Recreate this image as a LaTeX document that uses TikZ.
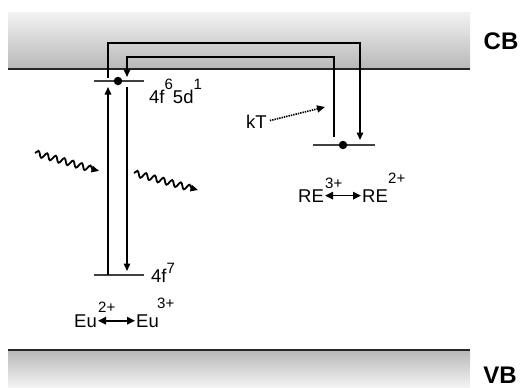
\documentclass[tikz,border=0pt]{standalone}
\usepackage{fontspec}
\setmainfont{Liberation Sans}
\usetikzlibrary{arrows.meta, positioning, decorations.pathmorphing}

\newcommand{\upidx}[2]{\raisebox{#1}{\fontsize{15}{17}\selectfont #2}}

\begin{document}
\begin{tikzpicture}[
    x=1pt, y=-1pt,
    >={Triangle[length=7.5pt, width=6.5pt]},
    font=\fontsize{18.5}{20}\selectfont,
    edge/.style={line width=2pt, draw=black!85},
    level/.style={line width=2pt, draw=black!75},
    trans/.style={->, line width=1.5pt},
    hop/.style={->, line width=1.5pt},
    thermal/.style={->, line width=1.7pt, dash pattern=on 1.4pt off 1pt, >={Triangle[length=8pt, width=7pt]}},
    photon/.style={->, line width=1.8pt, decorate, decoration={snake, amplitude=3pt, segment length=9pt, post length=6pt}},
    exch/.style={<->, line width=1.7pt, >={Triangle[length=8pt, width=7.5pt]}},
    lbl/.style={inner sep=0pt, anchor=base west},
    sup/.style={inner sep=0pt, anchor=base west, font=\fontsize{15}{17}\selectfont},
    bandlbl/.style={inner sep=0pt, font=\fontsize{24}{26}\selectfont\bfseries},
    elec/.style={circle, fill=black, inner sep=0pt, minimum size=8.5pt}
]
\useasboundingbox (0,0) rectangle (522,388);

% bands
\shade[top color=black!5, bottom color=black!28] (8,12) rectangle (470,69);
\draw[edge] (8,69) -- (470,69);
\shade[top color=black!28, bottom color=black!4] (8,350) rectangle (470,388);
\draw[edge] (8,350) -- (470,350);
\node[bandlbl] (cb) at (501,41) {CB};
\node[bandlbl] (vb) at (500,375) {VB};

% levels
\coordinate (eu5dL) at (94,81);
\coordinate (eu5dR) at (144,81);
\coordinate (eu4fL) at (94,275);
\coordinate (eu4fR) at (144,275);
\coordinate (trapL) at (313,145);
\coordinate (trapR) at (375,145);
\draw[level] (eu5dL) -- (eu5dR);
\draw[level] (eu4fL) -- (eu4fR);
\draw[level] (trapL) -- (trapR);
\node[elec] (e1) at (118,81) {};
\node[elec] (e2) at (343,145) {};

% absorption / emission
\coordinate (absA) at (108,275);
\coordinate (absB) at (108,87);
\coordinate (emA) at (127,87);
\coordinate (emB) at (127,271);
\draw[trans] (absA) -- (absB);
\draw[trans] (emA) -- (emB);

% via the conduction band
\coordinate (ion) at (108,78);
\coordinate (trapin) at (360,140);
\coordinate (detrap) at (334,137);
\coordinate (recap) at (127,77);
\draw[hop] (ion) -- ++(0,-35) -| (trapin);
\draw[hop] (detrap) -- ++(0,-80) -| (recap);

% light in and out
\coordinate (ph1a) at (35,153);
\coordinate (ph1b) at (99,171);
\coordinate (ph2a) at (134,173);
\coordinate (ph2b) at (198,190);
\draw[photon] (ph1a) -- (ph1b);
\draw[photon] (ph2a) -- (ph2b);

% labels
\node[lbl] (t5d) at (149,103) {4f\upidx{14pt}{6}5d\upidx{14pt}{1}};
\node[lbl] (t4f) at (151,282) {4f\upidx{9pt}{7}};

\node[lbl] (kt) at (246,128) {kT};
\coordinate (ktend) at (325,107);
\draw[thermal, shorten <=3pt] (kt.east) -- (ktend);

\node[lbl] (eu2) at (74,327) {Eu};
\node[sup] (eu2c) at (98,312) {2+};
\node[lbl] (eu3) at (136,327) {Eu};
\node[sup] (eu3c) at (157,308) {3+};
\draw[exch, shorten <=1pt, shorten >=1pt] (eu2.east) -- (eu3.west);

\node[lbl] (re3) at (298,202) {RE};
\node[sup] (re3c) at (325,188) {3+};
\node[lbl] (re2) at (362,202) {RE};
\node[sup] (re2c) at (388,183) {2+};
\draw[exch, shorten <=1pt, shorten >=1pt] (re3.east) -- (re2.west);

\end{tikzpicture}
\end{document}
